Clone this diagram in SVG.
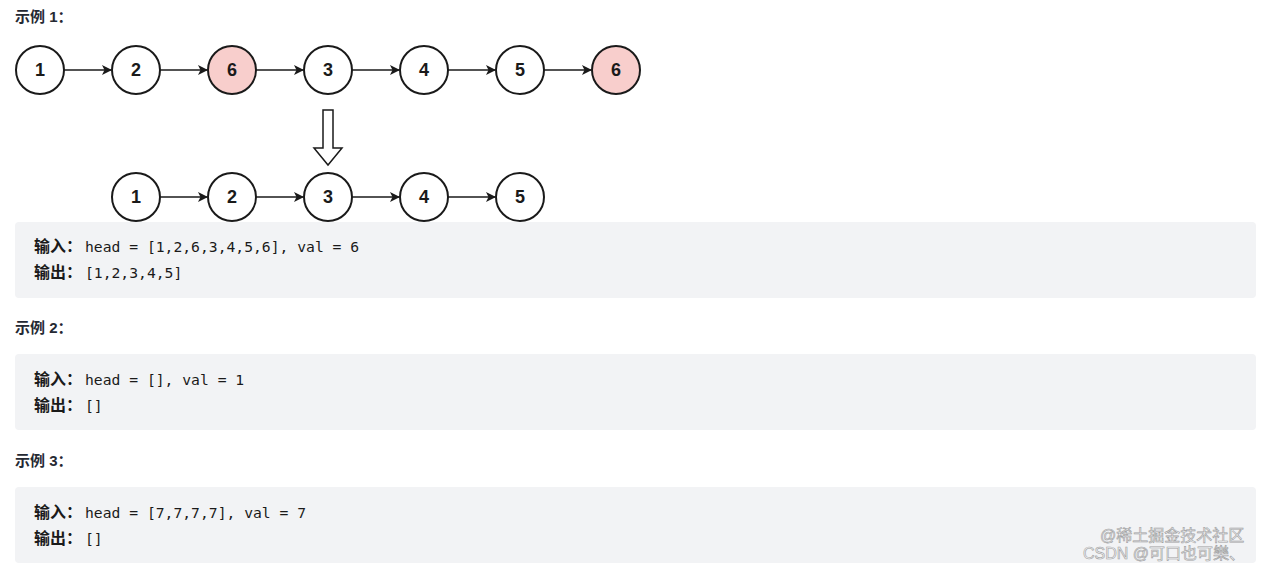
<svg xmlns="http://www.w3.org/2000/svg" width="1276" height="574" viewBox="0 0 1276 574">
<style>
.n{fill:#fff;stroke:#1a1a1a;stroke-width:2}
.r{fill:#f8cecc}
.t{font-family:"Liberation Sans",Arial,sans-serif;font-weight:bold;font-size:18px;fill:#1a1a1a;text-anchor:middle}
.e{stroke:#1a1a1a;stroke-width:1.5;fill:none;marker-end:url(#a)}
.h{font-family:"Liberation Sans","Noto Sans CJK SC",sans-serif;font-weight:bold;font-size:15px;fill:#252933}
.lb{font-family:"Liberation Sans","Noto Sans CJK SC",sans-serif;font-weight:bold;font-size:16px;fill:#1a1a1a}
.c{font-family:"DejaVu Sans Mono","Liberation Mono",monospace;font-size:14.7px;fill:#1a1a1a}
.box{fill:#f2f3f5}
.w{font-family:"Liberation Sans","Noto Sans CJK SC",sans-serif;font-size:16px;fill:none;stroke:#8a8a8a;stroke-width:0.6;opacity:0.8}
</style>
<defs>
<marker id="a" viewBox="0 0 10 10" refX="9" refY="5" markerWidth="10" markerHeight="10" orient="auto" markerUnits="userSpaceOnUse"><path d="M0,0 L10,5 L0,10 L2.5,5 Z" fill="#1a1a1a"/></marker>
</defs>
<rect width="1276" height="574" fill="#fff"/>
<text class="h" x="15" y="22">示例 1：</text>
<g id="connectors">
<line class="e" x1="64" y1="70" x2="111" y2="70"/>
<line class="e" x1="160" y1="70" x2="207" y2="70"/>
<line class="e" x1="256" y1="70" x2="303" y2="70"/>
<line class="e" x1="352" y1="70" x2="399" y2="70"/>
<line class="e" x1="448" y1="70" x2="495" y2="70"/>
<line class="e" x1="544" y1="70" x2="591" y2="70"/>
<line class="e" x1="160" y1="197" x2="207" y2="197"/>
<line class="e" x1="256" y1="197" x2="303" y2="197"/>
<line class="e" x1="352" y1="197" x2="399" y2="197"/>
<line class="e" x1="448" y1="197" x2="495" y2="197"/>
</g>
<g id="t1"><circle class="n" cx="40" cy="70" r="24"/><text class="t" x="40" y="76">1</text></g>
<g id="t2"><circle class="n" cx="136" cy="70" r="24"/><text class="t" x="136" y="76">2</text></g>
<g id="t3"><circle class="n r" cx="232" cy="70" r="24"/><text class="t" x="232" y="76">6</text></g>
<g id="t4"><circle class="n" cx="328" cy="70" r="24"/><text class="t" x="328" y="76">3</text></g>
<g id="t5"><circle class="n" cx="424" cy="70" r="24"/><text class="t" x="424" y="76">4</text></g>
<g id="t6"><circle class="n" cx="520" cy="70" r="24"/><text class="t" x="520" y="76">5</text></g>
<g id="t7"><circle class="n r" cx="616" cy="70" r="24"/><text class="t" x="616" y="76">6</text></g>
<g id="down"><path d="M323,110 L333,110 L333,148 L342,148 L328,165 L314,148 L323,148 Z" fill="#fff" stroke="#1a1a1a" stroke-width="1.5"/></g>
<g id="b1"><circle class="n" cx="136" cy="197" r="24"/><text class="t" x="136" y="203">1</text></g>
<g id="b2"><circle class="n" cx="232" cy="197" r="24"/><text class="t" x="232" y="203">2</text></g>
<g id="b3"><circle class="n" cx="328" cy="197" r="24"/><text class="t" x="328" y="203">3</text></g>
<g id="b4"><circle class="n" cx="424" cy="197" r="24"/><text class="t" x="424" y="203">4</text></g>
<g id="b5"><circle class="n" cx="520" cy="197" r="24"/><text class="t" x="520" y="203">5</text></g>
<rect class="box" x="15" y="222" width="1241" height="76" rx="4"/>
<text class="lb" x="34" y="252">输入：</text><text class="c" x="85" y="252">head = [1,2,6,3,4,5,6], val = 6</text>
<text class="lb" x="34" y="278">输出：</text><text class="c" x="85" y="278">[1,2,3,4,5]</text>
<text class="h" x="15" y="333">示例 2：</text>
<rect class="box" x="15" y="354" width="1241" height="76" rx="4"/>
<text class="lb" x="34" y="385">输入：</text><text class="c" x="85" y="385">head = [], val = 1</text>
<text class="lb" x="34" y="411">输出：</text><text class="c" x="85" y="411">[]</text>
<text class="h" x="15" y="466">示例 3：</text>
<rect class="box" x="15" y="487" width="1241" height="76" rx="4"/>
<text class="lb" x="34" y="518">输入：</text><text class="c" x="85" y="518">head = [7,7,7,7], val = 7</text>
<text class="lb" x="34" y="544">输出：</text><text class="c" x="85" y="544">[]</text>
<text class="w" x="1100" y="541">@稀土掘金技术社区</text>
<text class="w" x="1083" y="559">CSDN @可口也可樂、</text>
</svg>
